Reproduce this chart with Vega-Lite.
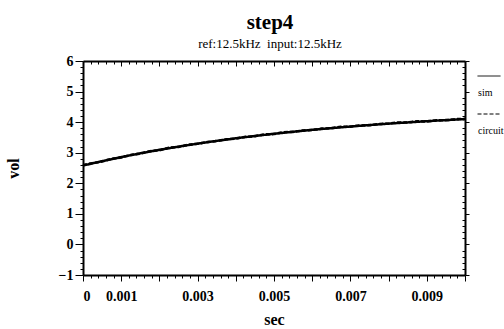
{
  "$schema": "https://vega.github.io/schema/vega-lite/v6.json",
  "width": 382,
  "height": 214,
  "autosize": {"type": "none"},
  "padding": {"left": 83, "top": 61, "right": 39, "bottom": 54},
  "background": "white",
  "title": {
    "text": "step4",
    "subtitle": "ref:12.5kHz\u00a0 input:12.5kHz",
    "font": "Liberation Serif",
    "fontSize": 21,
    "fontWeight": "bold",
    "color": "black",
    "subtitleFont": "Liberation Serif",
    "subtitleFontSize": 13,
    "subtitleColor": "black",
    "subtitlePadding": 5,
    "anchor": "middle",
    "dx": -4,
    "offset": 3
  },
  "config": {
    "view": {"stroke": null},
    "axis": {
      "labelFont": "Liberation Serif",
      "labelFontWeight": "bold",
      "labelFontSize": 14,
      "labelColor": "black",
      "titleFont": "Liberation Serif",
      "titleFontWeight": "bold",
      "titleFontSize": 16,
      "titleColor": "black",
      "domainColor": "black",
      "domainWidth": 2,
      "tickColor": "black",
      "tickWidth": 1,
      "grid": false,
      "labelOverlap": false
    },
    "legend": {
      "orient": "right",
      "offset": 4,
      "padding": 3,
      "symbolType": "stroke",
      "symbolSize": 529,
      "symbolStrokeWidth": 1,
      "symbolStrokeColor": "black",
      "labelFont": "Liberation Serif",
      "labelFontSize": 10,
      "labelColor": "black",
      "labelBaseline": "top",
      "labelOffset": -23,
      "rowPadding": 4
    }
  },
  "data": {
    "values": [
      {"series": "sim", "t": 0, "v": 2.58},
      {"series": "sim", "t": 0.0005, "v": 2.724},
      {"series": "sim", "t": 0.001, "v": 2.857},
      {"series": "sim", "t": 0.0015, "v": 2.98},
      {"series": "sim", "t": 0.002, "v": 3.094},
      {"series": "sim", "t": 0.0025, "v": 3.199},
      {"series": "sim", "t": 0.003, "v": 3.297},
      {"series": "sim", "t": 0.0035, "v": 3.387},
      {"series": "sim", "t": 0.004, "v": 3.471},
      {"series": "sim", "t": 0.0045, "v": 3.548},
      {"series": "sim", "t": 0.005, "v": 3.62},
      {"series": "sim", "t": 0.0055, "v": 3.686},
      {"series": "sim", "t": 0.006, "v": 3.748},
      {"series": "sim", "t": 0.0065, "v": 3.804},
      {"series": "sim", "t": 0.007, "v": 3.857},
      {"series": "sim", "t": 0.0075, "v": 3.905},
      {"series": "sim", "t": 0.008, "v": 3.951},
      {"series": "sim", "t": 0.0085, "v": 3.992},
      {"series": "sim", "t": 0.009, "v": 4.031},
      {"series": "sim", "t": 0.0095, "v": 4.067},
      {"series": "sim", "t": 0.01, "v": 4.1},
      {"series": "circuit", "t": 0, "v": 2.6},
      {"series": "circuit", "t": 0.00025, "v": 2.66},
      {"series": "circuit", "t": 0.0005, "v": 2.71},
      {"series": "circuit", "t": 0.00075, "v": 2.8},
      {"series": "circuit", "t": 0.001, "v": 2.84},
      {"series": "circuit", "t": 0.00125, "v": 2.93},
      {"series": "circuit", "t": 0.0015, "v": 2.97},
      {"series": "circuit", "t": 0.00175, "v": 3.05},
      {"series": "circuit", "t": 0.002, "v": 3.08},
      {"series": "circuit", "t": 0.00225, "v": 3.16},
      {"series": "circuit", "t": 0.0025, "v": 3.19},
      {"series": "circuit", "t": 0.00275, "v": 3.26},
      {"series": "circuit", "t": 0.003, "v": 3.29},
      {"series": "circuit", "t": 0.00325, "v": 3.35},
      {"series": "circuit", "t": 0.0035, "v": 3.38},
      {"series": "circuit", "t": 0.00375, "v": 3.44},
      {"series": "circuit", "t": 0.004, "v": 3.46},
      {"series": "circuit", "t": 0.00425, "v": 3.52},
      {"series": "circuit", "t": 0.0045, "v": 3.54},
      {"series": "circuit", "t": 0.00475, "v": 3.6},
      {"series": "circuit", "t": 0.005, "v": 3.61},
      {"series": "circuit", "t": 0.00525, "v": 3.67},
      {"series": "circuit", "t": 0.0055, "v": 3.68},
      {"series": "circuit", "t": 0.00575, "v": 3.73},
      {"series": "circuit", "t": 0.006, "v": 3.74},
      {"series": "circuit", "t": 0.00625, "v": 3.79},
      {"series": "circuit", "t": 0.0065, "v": 3.8},
      {"series": "circuit", "t": 0.00675, "v": 3.85},
      {"series": "circuit", "t": 0.007, "v": 3.85},
      {"series": "circuit", "t": 0.00725, "v": 3.89},
      {"series": "circuit", "t": 0.0075, "v": 3.9},
      {"series": "circuit", "t": 0.00775, "v": 3.94},
      {"series": "circuit", "t": 0.008, "v": 3.95},
      {"series": "circuit", "t": 0.00825, "v": 3.99},
      {"series": "circuit", "t": 0.0085, "v": 3.99},
      {"series": "circuit", "t": 0.00875, "v": 4.03},
      {"series": "circuit", "t": 0.009, "v": 4.02},
      {"series": "circuit", "t": 0.00925, "v": 4.06},
      {"series": "circuit", "t": 0.0095, "v": 4.06},
      {"series": "circuit", "t": 0.00975, "v": 4.1},
      {"series": "circuit", "t": 0.01, "v": 4.1}
    ]
  },
  "resolve": {"axis": {"x": "independent", "y": "independent"}},
  "layer": [
    {
      "mark": {"type": "line", "strokeWidth": 2.5},
      "encoding": {
        "x": {
          "field": "t",
          "type": "quantitative",
          "scale": {"domain": [0, 0.01], "nice": false, "zero": false},
          "axis": {
            "orient": "bottom",
            "title": "sec",
            "titlePadding": 8,
            "values": [0,0.0002,0.0004,0.0006,0.0008,0.001,0.0012,0.0014,0.0016,0.0018,0.002,0.0022,0.0024,0.0026,0.0028,0.003,0.0032,0.0034,0.0036,0.0038,0.004,0.0042,0.0044,0.0046,0.0048,0.005,0.0052,0.0054,0.0056,0.0058,0.006,0.0062,0.0064,0.0066,0.0068,0.007,0.0072,0.0074,0.0076,0.0078,0.008,0.0082,0.0084,0.0086,0.0088,0.009,0.0092,0.0094,0.0096,0.0098,0.01],
            "tickSize": {"condition": {"test": "abs(datum.value*1000 - round(datum.value*1000)) < 1e-6", "value": 6}, "value": 3},
            "labelPadding": 8,
            "labelExpr": "(abs(datum.value*1000 - round(datum.value*1000)) < 1e-6 && (round(datum.value*1000) == 0 || round(datum.value*1000) % 2 == 1)) ? format(datum.value, '~g') : ''"
          }
        },
        "y": {
          "field": "v",
          "type": "quantitative",
          "scale": {"domain": [-1, 6], "nice": false, "zero": false},
          "axis": {
            "orient": "left",
            "title": "vol",
            "titlePadding": 37,
            "values": [-1,-0.8,-0.6,-0.4,-0.2,0,0.2,0.4,0.6,0.8,1,1.2,1.4,1.6,1.8,2,2.2,2.4,2.6,2.8,3,3.2,3.4,3.6,3.8,4,4.2,4.4,4.6,4.8,5,5.2,5.4,5.6,5.8,6],
            "tickSize": {"condition": {"test": "abs(datum.value - round(datum.value)) < 1e-6", "value": 8}, "value": 3},
            "labelPadding": 2,
            "labelExpr": "abs(datum.value - round(datum.value)) < 1e-6 ? format(round(datum.value), 'd') : ''"
          }
        },
        "color": {
          "field": "series",
          "type": "nominal",
          "scale": {"domain": ["sim", "circuit"], "range": ["black", "black"]},
          "legend": {"title": null, "labelExpr": "['', datum.label]"}
        },
        "strokeDash": {
          "field": "series",
          "type": "nominal",
          "scale": {"domain": ["sim", "circuit"], "range": [[1, 0], [4, 2]]},
          "legend": {"title": null, "labelExpr": "['', datum.label]"}
        }
      }
    },
    {
      "mark": {"type": "line", "strokeWidth": 1, "opacity": 0},
      "encoding": {
        "detail": {"field": "series", "type": "nominal"},
        "x": {
          "field": "t",
          "type": "quantitative",
          "scale": {"domain": [0, 0.01], "nice": false, "zero": false},
          "axis": {
            "orient": "top",
            "title": null,
            "labels": false,
            "values": [0,0.0002,0.0004,0.0006,0.0008,0.001,0.0012,0.0014,0.0016,0.0018,0.002,0.0022,0.0024,0.0026,0.0028,0.003,0.0032,0.0034,0.0036,0.0038,0.004,0.0042,0.0044,0.0046,0.0048,0.005,0.0052,0.0054,0.0056,0.0058,0.006,0.0062,0.0064,0.0066,0.0068,0.007,0.0072,0.0074,0.0076,0.0078,0.008,0.0082,0.0084,0.0086,0.0088,0.009,0.0092,0.0094,0.0096,0.0098,0.01],
            "tickSize": {"condition": {"test": "abs(datum.value*1000 - round(datum.value*1000)) < 1e-6", "value": -5}, "value": -3}
          }
        },
        "y": {
          "field": "v",
          "type": "quantitative",
          "scale": {"domain": [-1, 6], "nice": false, "zero": false},
          "axis": {
            "orient": "right",
            "title": null,
            "labels": false,
            "values": [-1,-0.8,-0.6,-0.4,-0.2,0,0.2,0.4,0.6,0.8,1,1.2,1.4,1.6,1.8,2,2.2,2.4,2.6,2.8,3,3.2,3.4,3.6,3.8,4,4.2,4.4,4.6,4.8,5,5.2,5.4,5.6,5.8,6],
            "tickSize": {"condition": {"test": "abs(datum.value - round(datum.value)) < 1e-6", "value": 4}, "value": -3}
          }
        }
      }
    }
  ]
}
